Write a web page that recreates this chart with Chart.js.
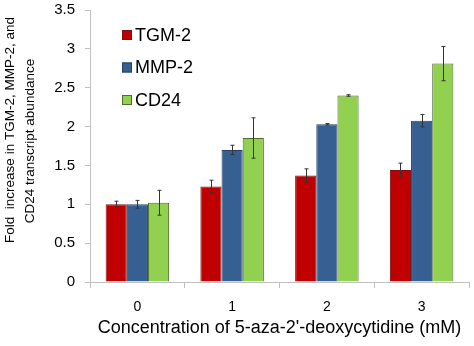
<!DOCTYPE html>
<html>
<head>
<meta charset="UTF-8" />
<title>Fold increase</title>
<script src="https://cdn.jsdelivr.net/npm/chart.js@4.4.0/dist/chart.umd.min.js"></script>
<style>
  html, body { margin: 0; padding: 0; background: #fff; }
  #wrap { width: 474px; height: 346px; position: relative; }
</style>
</head>
<body>
<div id="wrap"><canvas id="chart"></canvas></div>
<script>
  const concentrations = ["0", "1", "2", "3"];
  const tgm2 = [1.0, 1.23, 1.37, 1.44];
  const tgm2Err = [0.04, 0.08, 0.086, 0.09];
  const mmp2 = [1.0, 1.7, 2.03, 2.076];
  const mmp2Err = [0.05, 0.06, 0.01, 0.08];
  const cd24 = [1.02, 1.853, 2.4, 2.81];
  const cd24Err = [0.16, 0.26, 0.01, 0.22];
  const yTicks = [0, 0.5, 1, 1.5, 2, 2.5, 3, 3.5];
  const yTitle = ["Fold  increase in TGM-2, MMP-2, and", "CD24 transcript abundance"];

  const font = "'Liberation Sans', Arial, sans-serif";

  // error bars drawn on top of the bars
  const errorBars = {
    id: "errorBars",
    afterDatasetsDraw(chart) {
      const ctx = chart.ctx;
      const y = chart.scales.y;
      ctx.save();
      ctx.strokeStyle = "#333";
      ctx.lineWidth = 1;
      chart.data.datasets.forEach((ds, i) => {
        chart.getDatasetMeta(i).data.forEach((bar, j) => {
          const v = ds.data[j], e = ds.errors[j];
          const top = y.getPixelForValue(v + e);
          const bot = y.getPixelForValue(v - e);
          const x = Math.round(bar.x) + 0.5;
          ctx.beginPath();
          ctx.moveTo(x, top); ctx.lineTo(x, bot);
          ctx.moveTo(x - 2, top); ctx.lineTo(x + 2, top);
          ctx.moveTo(x - 2, bot); ctx.lineTo(x + 2, bot);
          ctx.stroke();
        });
      });
      ctx.restore();
    }
  };

  // legend inside the plot (top left) + rotated two-line y title
  const extras = {
    id: "extras",
    afterDraw(chart) {
      const ctx = chart.ctx;
      const area = chart.chartArea;
      const x0 = area.left + 32;
      ctx.save();
      ctx.font = "18px " + font;
      ctx.textBaseline = "middle";
      chart.data.datasets.forEach((ds, i) => {
        const cy = area.top + 25 + i * 32.5;
        ctx.fillStyle = ds.backgroundColor;
        ctx.fillRect(x0, cy - 5, 10, 10);
        ctx.strokeStyle = ds.borderColor;
        ctx.lineWidth = 1;
        ctx.strokeRect(x0 + 0.5, cy - 4.5, 9, 9);
        ctx.fillStyle = "#000";
        ctx.fillText(ds.label, x0 + 13, cy + 1);
      });

      ctx.font = "13.5px " + font;
      ctx.textAlign = "center";
      ctx.fillStyle = "#000";
      const centers = [[10, 130], [30, 141]];
      yTitle.forEach((t, i) => {
        ctx.save();
        ctx.translate(centers[i][0], centers[i][1]);
        ctx.rotate(-Math.PI / 2);
        ctx.fillText(t, 0, 0);
        ctx.restore();
      });
      ctx.restore();
    }
  };

  new Chart(document.getElementById("chart"), {
    type: "bar",
    data: {
      labels: concentrations,
      datasets: [
        { label: "TGM-2", data: tgm2, errors: tgm2Err, backgroundColor: "#C00000", borderColor: "#7a1010", borderWidth: 1 },
        { label: "MMP-2", data: mmp2, errors: mmp2Err, backgroundColor: "#376092", borderColor: "#243f60", borderWidth: 1 },
        { label: "CD24", data: cd24, errors: cd24Err, backgroundColor: "#92D050", borderColor: "#4f6b2e", borderWidth: 1 }
      ]
    },
    plugins: [errorBars, extras],
    options: {
      responsive: true,
      maintainAspectRatio: false,
      animation: false,
      layout: { padding: { top: 10, right: 5, left: 0, bottom: 0 } },
      plugins: { legend: { display: false }, tooltip: { enabled: false } },
      datasets: { bar: { categoryPercentage: 0.67, barPercentage: 1.0 } },
      scales: {
        x: {
          afterFit: (s) => { s.height = 64; s.paddingLeft = 0; s.paddingRight = 0; },
          grid: { display: true, offset: true, drawOnChartArea: false, color: "#c0c0c0", tickLength: 6 },
          border: { color: "#c0c0c0" },
          ticks: { color: "#000", font: { family: font, size: 14 }, padding: 11 },
          title: { display: true, text: "Concentration of 5-aza-2'-deoxycytidine (mM)", color: "#000", font: { family: font, size: 18 }, padding: { top: 0, bottom: 7 } }
        },
        y: {
          min: 0, max: 3.5,
          afterBuildTicks: (s) => { s.ticks = yTicks.map(v => ({ value: v })); },
          afterFit: (s) => { s.width = 90; s.paddingTop = 0; s.paddingBottom = 0; },
          grid: { display: true, drawOnChartArea: false, color: "#c0c0c0", tickLength: 5 },
          border: { color: "#c0c0c0" },
          ticks: { color: "#000", font: { family: font, size: 15 }, padding: 10, callback: (v) => String(v) }
        }
      }
    }
  });
</script>
</body>
</html>
